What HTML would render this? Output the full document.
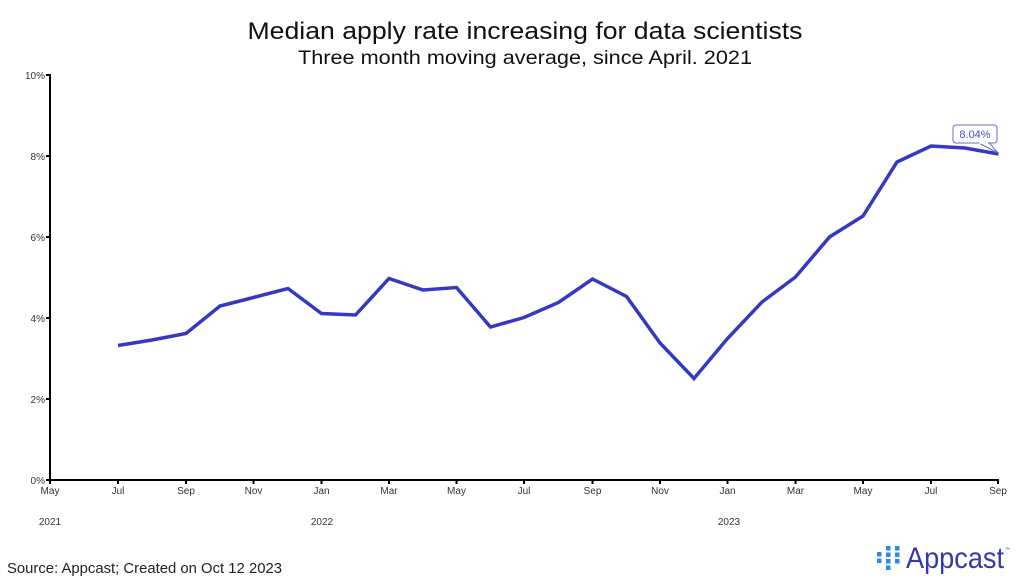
<!DOCTYPE html>
<html>
<head>
<meta charset="utf-8">
<style>
  html, body { margin:0; padding:0; background:#fff; }
  svg { display:block; }
  text { font-family: "Liberation Sans", "DejaVu Sans", sans-serif; }
</style>
</head>
<body>
<svg width="1024" height="582" viewBox="0 0 1024 582" xmlns="http://www.w3.org/2000/svg">
  <rect width="1024" height="582" fill="#fff"/>

  <!-- Titles -->
  <text x="525" y="39" text-anchor="middle" font-size="24" fill="#111" textLength="555" lengthAdjust="spacingAndGlyphs">Median apply rate increasing for data scientists</text>
  <text x="525" y="64" text-anchor="middle" font-size="19" fill="#111" textLength="454" lengthAdjust="spacingAndGlyphs">Three month moving average, since April. 2021</text>

  <!-- Y axis ticks and labels -->
  <g stroke="#000" stroke-width="2">
    <line x1="50" y1="74" x2="50" y2="481"/>
    <line x1="49" y1="480" x2="999" y2="480"/>
    <line x1="46" y1="75" x2="50" y2="75"/>
    <line x1="46" y1="156" x2="50" y2="156"/>
    <line x1="46" y1="237" x2="50" y2="237"/>
    <line x1="46" y1="318" x2="50" y2="318"/>
    <line x1="46" y1="399" x2="50" y2="399"/>
    <line x1="46" y1="480" x2="50" y2="480"/>
  </g>
  <g font-size="10" fill="#333" text-anchor="end">
    <text x="45" y="79">10%</text>
    <text x="45" y="160">8%</text>
    <text x="45" y="241">6%</text>
    <text x="45" y="322">4%</text>
    <text x="45" y="403">2%</text>
    <text x="45" y="484">0%</text>
  </g>

  <!-- X ticks -->
  <g stroke="#000" stroke-width="2">
    <line x1="50" y1="480" x2="50" y2="484"/>
    <line x1="118" y1="480" x2="118" y2="484"/>
    <line x1="186" y1="480" x2="186" y2="484"/>
    <line x1="253.5" y1="480" x2="253.5" y2="484"/>
    <line x1="321.5" y1="480" x2="321.5" y2="484"/>
    <line x1="389" y1="480" x2="389" y2="484"/>
    <line x1="456.5" y1="480" x2="456.5" y2="484"/>
    <line x1="524" y1="480" x2="524" y2="484"/>
    <line x1="592.5" y1="480" x2="592.5" y2="484"/>
    <line x1="660" y1="480" x2="660" y2="484"/>
    <line x1="727.5" y1="480" x2="727.5" y2="484"/>
    <line x1="795.5" y1="480" x2="795.5" y2="484"/>
    <line x1="863" y1="480" x2="863" y2="484"/>
    <line x1="931" y1="480" x2="931" y2="484"/>
    <line x1="998" y1="480" x2="998" y2="484"/>
  </g>
  <g font-size="10" fill="#333" text-anchor="middle">
    <text x="50" y="494">May</text>
    <text x="118" y="494">Jul</text>
    <text x="186" y="494">Sep</text>
    <text x="253.5" y="494">Nov</text>
    <text x="321.5" y="494">Jan</text>
    <text x="389" y="494">Mar</text>
    <text x="456.5" y="494">May</text>
    <text x="524" y="494">Jul</text>
    <text x="592.5" y="494">Sep</text>
    <text x="660" y="494">Nov</text>
    <text x="727.5" y="494">Jan</text>
    <text x="795.5" y="494">Mar</text>
    <text x="863" y="494">May</text>
    <text x="931" y="494">Jul</text>
    <text x="998" y="494">Sep</text>
    <text x="50" y="525">2021</text>
    <text x="322" y="525">2022</text>
    <text x="729" y="525">2023</text>
  </g>

  <!-- Series -->
  <polyline fill="none" stroke="#3538c0" stroke-width="3.5" stroke-linejoin="miter" stroke-linecap="butt"
    points="118,345.5 152,340 186,333.5 220,306 253.5,297.5 288,288.5 321.5,313.5 355.5,315 389,278.5 423,290 456.5,287.5 490.5,327 524,317.5 558.5,302.5 592.5,279 626.5,296.5 660,343 694,378.5 727.5,338.5 762,302 795.5,277 829.5,237 863,216 897,162 931,146 965,148 998.5,154"/>

  <!-- Callout label -->
  <path d="M978,142.5 L998,153 L989,142.5" fill="#fff" stroke="#6a6ec8" stroke-width="1"/>
  <rect x="953" y="125" width="44" height="18" rx="3" ry="3" fill="#fff" stroke="#6a6ec8" stroke-width="1"/>
  <line x1="979" y1="143" x2="988" y2="143" stroke="#fff" stroke-width="1.5"/>
  <text x="975" y="138" text-anchor="middle" font-size="11" fill="#4a4ec0">8.04%</text>

  <!-- Source -->
  <text x="7" y="573" font-size="15" fill="#222" textLength="275" lengthAdjust="spacingAndGlyphs">Source: Appcast; Created on Oct 12 2023</text>

  <!-- Appcast logo -->
  <g fill="#2a8be6">
    <rect x="877" y="552" width="4.5" height="4.5"/>
    <rect x="877" y="558.5" width="4.5" height="4.5"/>
    <rect x="886" y="546" width="4.5" height="4.5"/>
    <rect x="886" y="552.5" width="4.5" height="4.5"/>
    <rect x="886" y="559" width="4.5" height="4.5"/>
    <rect x="886" y="565.5" width="4.5" height="4.5"/>
    <rect x="895" y="546" width="4.5" height="4.5"/>
    <rect x="895" y="552.5" width="4.5" height="4.5"/>
    <rect x="895" y="559" width="4.5" height="4.5"/>
  </g>
  <text x="906" y="568" font-size="30" fill="#3538b0" textLength="98" lengthAdjust="spacingAndGlyphs">Appcast</text>
  <text x="1005" y="551" font-size="5" fill="#3538b0">™</text>
</svg>
</body>
</html>
